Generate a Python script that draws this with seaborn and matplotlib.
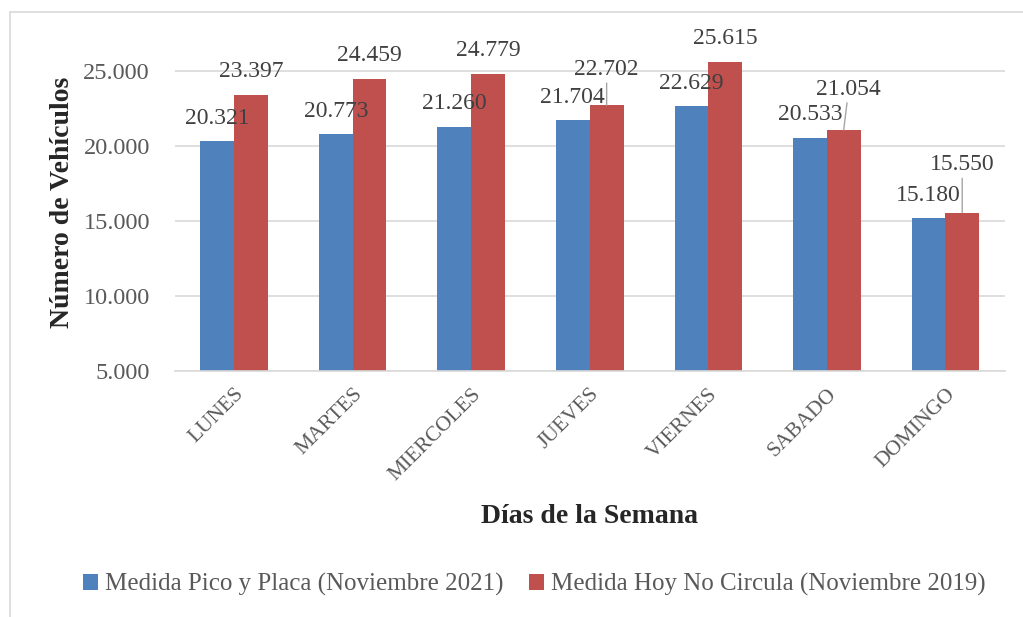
import pandas as pd
import seaborn as sns
import matplotlib.pyplot as plt
from matplotlib.ticker import FuncFormatter
from matplotlib.patches import Rectangle

# Data
dias = ["LUNES", "MARTES", "MIERCOLES", "JUEVES", "VIERNES", "SABADO", "DOMINGO"]
pico_placa_2021 = [20321, 20773, 21260, 21704, 22629, 20533, 15180]
hoy_no_circula_2019 = [23397, 24459, 24779, 22702, 25615, 21054, 15550]
serie_labels = ["Medida Pico y Placa (Noviembre 2021)", "Medida Hoy No Circula (Noviembre 2019)"]

df = pd.DataFrame({
    "dia": dias * 2,
    "valor": pico_placa_2021 + hoy_no_circula_2019,
    "serie": [serie_labels[0]] * len(dias) + [serie_labels[1]] * len(dias),
})

sns.set_style("white")
plt.rcParams["font.family"] = ["Liberation Serif", "DejaVu Serif"]

colors = ["#4F81BD", "#C0504D"]
txt_color = "#404040"

fig = plt.figure(figsize=(10.23, 6.17), dpi=100)
ax = fig.add_axes([0.171, 0.399, 0.811, 0.547])

sns.barplot(data=df, x="dia", y="valor", hue="serie", palette=colors,
            width=0.57, ax=ax, saturation=1, edgecolor="none")

ax.set_ylim(5000, 27500)
ax.set_yticks([5000, 10000, 15000, 20000, 25000])
ax.yaxis.set_major_formatter(FuncFormatter(lambda v, p: f"{v:,.0f}".replace(",", ".")))
ax.yaxis.grid(True, color="#d9d9d9", linewidth=1.2)
ax.set_axisbelow(True)
for s in ["top", "right", "left"]:
    ax.spines[s].set_visible(False)
ax.spines["bottom"].set_color("#d9d9d9")
ax.spines["bottom"].set_linewidth(1.2)
ax.tick_params(axis="both", length=0, colors="#595959")
ax.tick_params(axis="y", pad=18, labelsize=17.5)
ax.tick_params(axis="x", pad=10, labelsize=15.5)
plt.setp(ax.get_xticklabels(), rotation=45, ha="right", rotation_mode="anchor")

ax.set_xlabel("Días de la Semana", fontsize=20, fontweight="bold", labelpad=14)
ax.set_ylabel("Número de Vehículos", fontsize=20, fontweight="bold", labelpad=6)

# data labels: (dx, dy, leader line) in pixels from bar top
offs_blue = [(0, 23, False)] * 7
offs_red = [(0, 23, False), (0, 23, False), (0, 24, False), (0, 36, True),
            (0, 23, False), (5, 41, True), (0, 48, True)]

for cont, vals, offs in [(ax.containers[0], pico_placa_2021, offs_blue),
                         (ax.containers[1], hoy_no_circula_2019, offs_red)]:
    for bar, v, (dx, dy, line) in zip(cont, vals, offs):
        x = bar.get_x() + bar.get_width() / 2
        label = f"{v:,}".replace(",", ".")
        kw = {}
        if line:
            kw["arrowprops"] = dict(arrowstyle="-", color="#a6a6a6", lw=1,
                                    shrinkA=0, shrinkB=0)
        ax.annotate(label, xy=(x, v), xytext=(dx, dy), textcoords="offset pixels",
                    ha="center", va="center", fontsize=17, color=txt_color, **kw)

handles, labels = ax.get_legend_handles_labels()
ax.legend_.remove()
fig.legend(handles, labels, loc="center", bbox_to_anchor=(0.5225, 0.052), ncol=2,
           frameon=False, fontsize=18, handlelength=0.6, handleheight=0.6,
           handletextpad=0.3, columnspacing=1.0, labelcolor="#595959")

fig.patches.append(Rectangle((10 / 1023, -0.01), 1.0, 1 - 12 / 617 + 0.01,
                             transform=fig.transFigure, fill=False,
                             edgecolor="#d9d9d9", linewidth=1.2))

fig.savefig("out.png", dpi=100)
